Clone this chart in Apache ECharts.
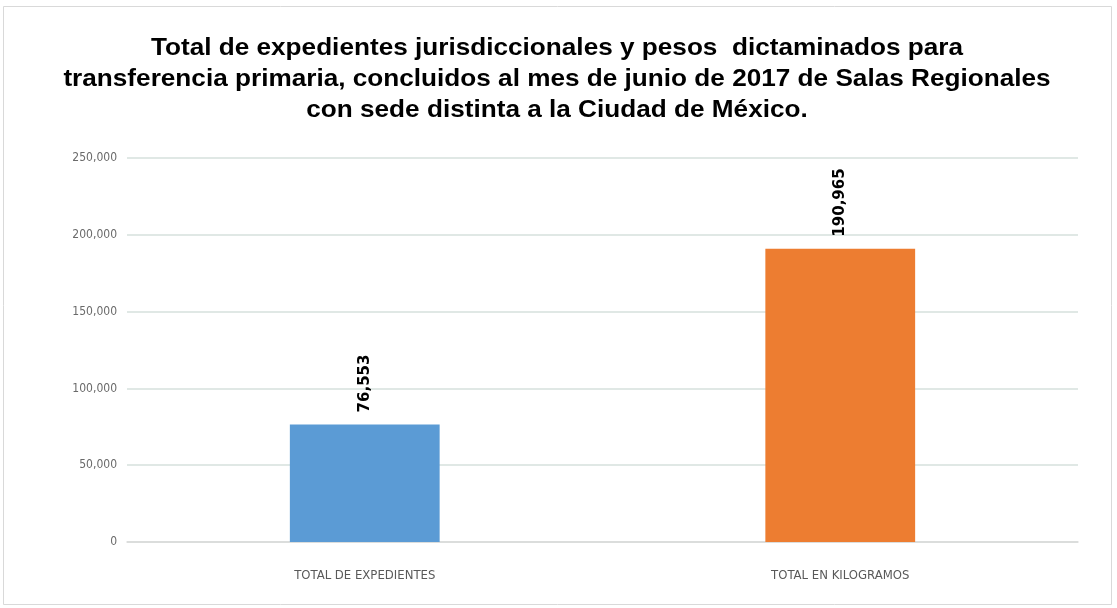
<!DOCTYPE html>
<html><head><meta charset="utf-8">
<script src="https://cdn.jsdelivr.net/npm/echarts@6/dist/echarts.min.js"></script>
<style>html,body{margin:0;padding:0;background:#fff}#c{width:1117px;height:608px}</style>
</head><body><div id="c"></div>
<script>
const categories = ["TOTAL DE EXPEDIENTES", "TOTAL EN KILOGRAMOS"];
const values = [76553, 190965];
const barColors = ["#5B9BD5", "#ED7D31"];
const titleText = "Total de expedientes jurisdiccionales y pesos  dictaminados para\ntransferencia primaria, concluidos al mes de junio de 2017 de Salas Regionales\ncon sede distinta a la Ciudad de México.";

const chart = echarts.init(document.getElementById('c'));
chart.setOption({
  animation: false,
  backgroundColor: '#fff',
  graphic: [
    {type: 'rect', shape: {x: 3.5, y: 6.5, width: 1108, height: 598}, style: {fill: 'none', stroke: '#d9d9d9', lineWidth: 1}, silent: true},
    {type: 'text', x: 557, y: 33, scaleX: 1.09, originX: 0,
      style: {text: titleText, fontFamily: 'Liberation Sans, Arial', fontWeight: 'bold', fontSize: 24, lineHeight: 31,
        fill: '#000', align: 'center', verticalAlign: 'top'}, silent: true}
  ],
  grid: {left: 127, right: 39, top: 158, bottom: 66},
  xAxis: {
    type: 'category', data: categories,
    axisLine: {lineStyle: {color: '#d9d9d9', width: 1.5}}, axisTick: {show: false},
    axisLabel: {margin: 27, color: '#595959', fontSize: 13, fontFamily: 'Liberation Sans Narrow, DejaVu Sans Condensed, sans-serif'}
  },
  yAxis: {
    type: 'value', min: 0, max: 250000, interval: 50000,
    axisLine: {show: false}, axisTick: {show: false},
    splitLine: {lineStyle: {color: '#d6e0dc', width: 1.5}},
    axisLabel: {color: '#6a6a6a', fontSize: 12, margin: 10, fontFamily: 'Liberation Sans Narrow, DejaVu Sans Condensed, sans-serif',
      formatter: v => v.toLocaleString('en-US')}
  },
  series: [{
    type: 'bar', barWidth: '31.5%',
    data: values.map((v, i) => ({value: v, itemStyle: {color: barColors[i]}})),
    label: {show: true, position: 'top', rotate: 90, align: 'left', verticalAlign: 'middle', distance: 12,
      color: '#000', fontWeight: 'bold', fontSize: 15, fontFamily: 'DejaVu Sans, sans-serif',
      formatter: p => p.value.toLocaleString('en-US')}
  }]
});
</script></body></html>
